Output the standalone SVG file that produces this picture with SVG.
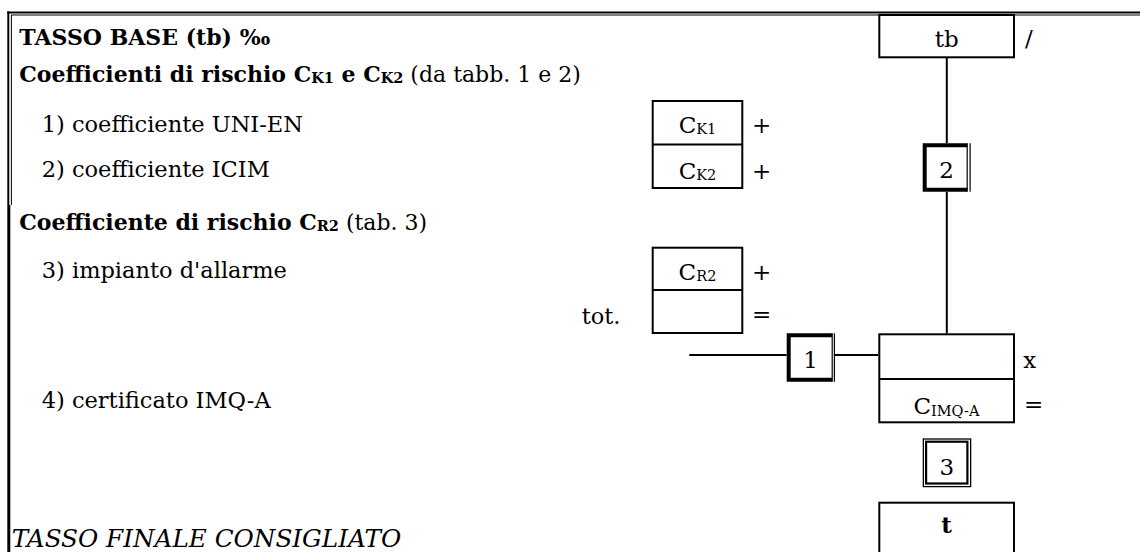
<svg xmlns="http://www.w3.org/2000/svg" width="1140" height="552" viewBox="0 0 1140 552">
<style>
text { font-family: "DejaVu Serif", "Liberation Serif", serif; font-size: 22.5px; fill: #000; }
.h { font-size: 22px; }
.b { font-weight: bold; }
.it { font-style: italic; font-size: 24.7px; }
.m { text-anchor: middle; }
.bx { font-size: 23px; }
.sub { font-size: 14.5px; }
.box { fill: #fff; stroke: #000; stroke-width: 2; }
.ln { stroke: #000; stroke-width: 2; fill: none; }
.thick { stroke: #000; stroke-width: 4; fill: none; }
.thin { stroke: #000; stroke-width: 1.2; fill: none; }
</style>
<rect width="1140" height="552" fill="#fff"/>
<g id="frame" stroke="#000" fill="none">
  <line x1="7.3" y1="12.4" x2="1140" y2="12.4" stroke-width="2"/>
  <line x1="11" y1="15" x2="1140" y2="15" stroke-width="1"/>
  <line x1="8.3" y1="11.4" x2="8.3" y2="205" stroke-width="2"/>
  <line x1="11.4" y1="15" x2="11.4" y2="205" stroke-width="1"/>
  <line x1="8.8" y1="205" x2="8.8" y2="552" stroke-width="3"/>
</g>
<g id="labels">
  <text class="b h" x="19.3" y="45">TASSO BASE (tb) ‰</text>
  <text class="h" x="19.3" y="81.7"><tspan class="b">Coefficienti di rischio C</tspan><tspan class="b sub" dy="1">K1</tspan><tspan class="b" dy="-1"> e C</tspan><tspan class="b sub" dy="1">K2</tspan><tspan dy="-1"> (da tabb. 1 e 2)</tspan></text>
  <text x="41.7" y="131.5">1) coefficiente UNI-EN</text>
  <text x="41.7" y="176.7">2) coefficiente ICIM</text>
  <text class="h" x="19.3" y="229.5"><tspan class="b">Coefficiente di rischio C</tspan><tspan class="b sub" dy="1">R2</tspan><tspan dy="-1"> (tab. 3)</tspan></text>
  <text x="41.7" y="278">3) impianto d'allarme</text>
  <text x="41.7" y="408">4) certificato IMQ-A</text>
  <text class="it" x="11.7" y="546.7">TASSO FINALE CONSIGLIATO</text>
</g>
<g id="connectors">
  <line class="ln" x1="946.8" y1="57.7" x2="946.8" y2="143.3"/>
  <line class="ln" x1="946.8" y1="191.7" x2="946.8" y2="333.3"/>
  <line class="ln" x1="689.3" y1="355" x2="786.7" y2="355"/>
  <line class="ln" x1="835" y1="355" x2="878.3" y2="355"/>
</g>
<g id="node-tb">
  <rect class="box" x="879.3" y="15" width="134.7" height="42.3"/>
  <text class="m bx" x="946.7" y="46.7">tb</text>
  <text class="bx" x="1025" y="46">/</text>
</g>
<g id="node-ck">
  <rect class="box" x="652.7" y="101" width="89.6" height="87"/>
  <line class="ln" x1="652.7" y1="144.5" x2="742.3" y2="144.5"/>
  <text class="m bx" x="697.5" y="133.3">C<tspan class="sub" dy="1">K1</tspan></text>
  <text class="bx" x="752" y="133">+</text>
  <text class="m bx" x="697.5" y="179">C<tspan class="sub" dy="1">K2</tspan></text>
  <text class="bx" x="752" y="179">+</text>
</g>
<g id="node-cr">
  <rect class="box" x="652.7" y="247.7" width="89.6" height="85.3"/>
  <line class="ln" x1="652.7" y1="290" x2="742.3" y2="290"/>
  <text class="m bx" x="697.5" y="280">C<tspan class="sub" dy="1">R2</tspan></text>
  <text class="bx" x="752" y="280">+</text>
  <text x="581.7" y="323.5">tot.</text>
  <text class="bx" x="752" y="322">=</text>
</g>
<g id="node-1">
  <rect x="786.7" y="333.3" width="48.3" height="48.4" fill="#fff"/>
  <path class="thick" d="M832.2 335.3 H788.7 V379.7 H832.2"/>
  <line class="thin" x1="832.2" y1="333.3" x2="832.2" y2="381.7"/>
  <line class="thin" x1="834.4" y1="333.3" x2="834.4" y2="381.7"/>
  <text class="m bx" x="810.5" y="368.3">1</text>
</g>
<g id="node-2">
  <rect x="922.7" y="143.3" width="49" height="48.4" fill="#fff"/>
  <path class="thick" d="M967.2 145.3 H924.7 V189.7 H967.2"/>
  <line class="thin" x1="967.2" y1="143.3" x2="967.2" y2="191.7"/>
  <line class="thin" x1="970.1" y1="143.3" x2="970.1" y2="191.7"/>
  <text class="m bx" x="946.5" y="178">2</text>
</g>
<g id="node-main">
  <rect class="box" x="879.3" y="334.3" width="134.7" height="88"/>
  <line class="ln" x1="879.3" y1="379" x2="1014" y2="379"/>
  <text class="bx" x="1023.3" y="368.3">x</text>
  <text class="m bx" x="946.4" y="413.5">C<tspan class="sub" font-size="17" dy="2">IMQ-A</tspan></text>
  <text class="bx" x="1024" y="412">=</text>
</g>
<g id="node-3">
  <rect x="923.35" y="439" width="47.3" height="47.6" fill="#fff" stroke="#000" stroke-width="1.3"/>
  <rect x="926.1" y="441.7" width="41.3" height="41.8" fill="none" stroke="#000" stroke-width="2.2"/>
  <text class="m bx" x="946.8" y="474.5">3</text>
</g>
<g id="node-t">
  <rect class="box" x="879.3" y="502.7" width="134.7" height="60"/>
  <text class="b m bx" x="946.5" y="533">t</text>
</g>
</svg>
